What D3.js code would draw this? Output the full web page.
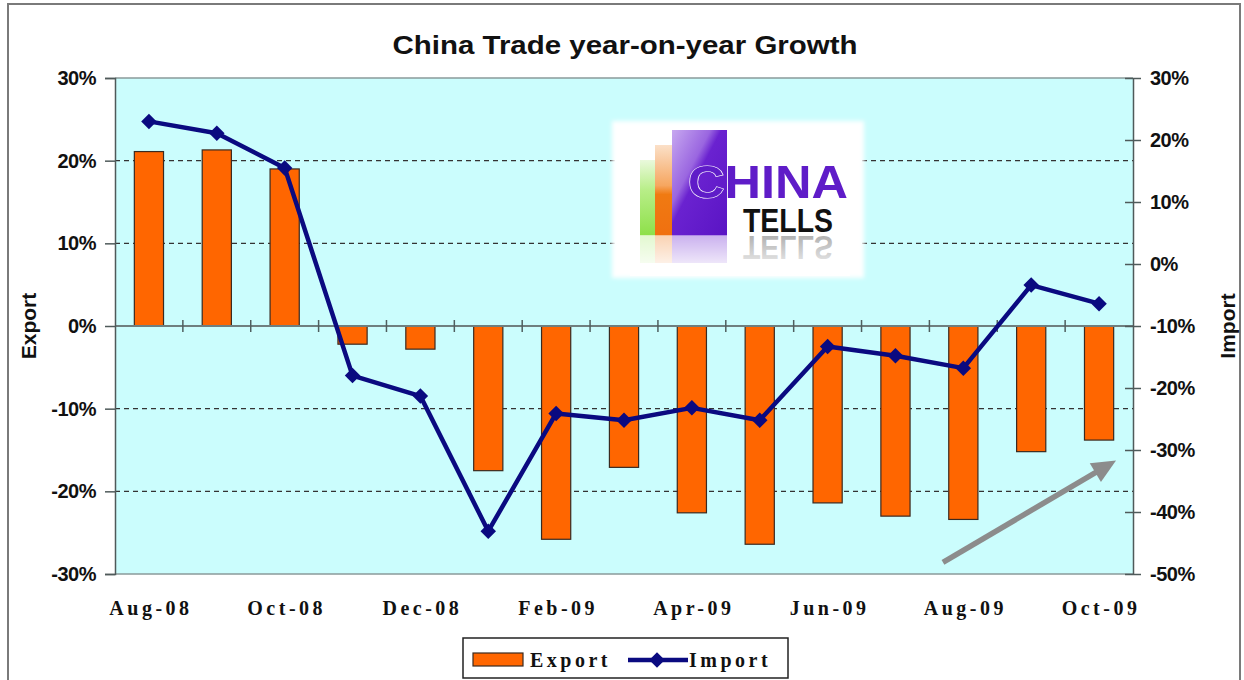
<!DOCTYPE html>
<html>
<head>
<meta charset="utf-8">
<script src="https://cdn.jsdelivr.net/npm/d3@7"></script>
<style>
  html, body { margin: 0; padding: 0; background: #fff; }
  svg { display: block; }
</style>
</head>
<body>
<svg id="chart" width="1244" height="680"></svg>
<script>
// Monthly year-on-year growth of China's foreign trade
const months = ["Aug-08","Sep-08","Oct-08","Nov-08","Dec-08","Jan-09","Feb-09","Mar-09",
                "Apr-09","May-09","Jun-09","Jul-09","Aug-09","Sep-09","Oct-09"];
const exportGrowth = [0.211, 0.213, 0.190, -0.022, -0.028, -0.175, -0.258, -0.171,
                      -0.226, -0.264, -0.214, -0.230, -0.234, -0.152, -0.138];
const importGrowth = [0.230, 0.211, 0.155, -0.180, -0.213, -0.431, -0.241, -0.252,
                      -0.232, -0.252, -0.133, -0.148, -0.168, -0.034, -0.064];
const leftTicks = [0.3, 0.2, 0.1, 0, -0.1, -0.2, -0.3];
const rightTicks = [0.3, 0.2, 0.1, 0, -0.1, -0.2, -0.3, -0.4, -0.5];
const gridValues = [0.2, 0.1, -0.1, -0.2];
const xLabels = ["Aug-08","Oct-08","Dec-08","Feb-09","Apr-09","Jun-09","Aug-09","Oct-09"];
// trend arrow, in (month index, export growth) space
const trendArrow = [{i: 11.70, v: -0.286}, {i: 14.25, v: -0.1626}];

const svg = d3.select("#chart");
const plot = {left: 115, right: 1133, top: 78, bottom: 574};

const x = d3.scaleBand().domain(months).range([plot.left, plot.right]).padding(0);
const xi = d3.scaleLinear().domain([0, months.length - 1])
  .range([plot.left + x.bandwidth() / 2, plot.right - x.bandwidth() / 2]);
const yL = d3.scaleLinear().domain([-0.3, 0.3]).range([plot.bottom, plot.top]);
const yR = d3.scaleLinear().domain([-0.5, 0.3]).range([plot.bottom, plot.top]);
const pctBase = d3.format(".0%");
const pct = d => pctBase(d).replace("\u2212", "-");

// outer chart frame
svg.append("rect").attr("x", 8).attr("y", 4).attr("width", 1232).attr("height", 690)
  .attr("fill", "#fff").attr("stroke", "#7a7a7a").attr("stroke-width", 2);

// title
svg.append("text").attr("x", 625).attr("y", 54).attr("text-anchor", "middle")
  .attr("font-family", "Liberation Sans, Arial, sans-serif").attr("font-weight", "bold")
  .attr("font-size", 26).attr("fill", "#111")
  .attr("textLength", 465).attr("lengthAdjust", "spacingAndGlyphs")
  .text("China Trade year-on-year Growth");

// plot background
svg.append("rect").attr("x", plot.left).attr("y", plot.top)
  .attr("width", plot.right - plot.left).attr("height", plot.bottom - plot.top)
  .attr("fill", "#cbfdfd");
svg.append("line").attr("x1", plot.left).attr("x2", plot.right)
  .attr("y1", plot.top).attr("y2", plot.top).attr("stroke", "#8a9a9a").attr("stroke-width", 1.5);
svg.append("line").attr("x1", plot.left).attr("x2", plot.right)
  .attr("y1", plot.bottom).attr("y2", plot.bottom).attr("stroke", "#8a9a9a").attr("stroke-width", 1.5);

// dashed gridlines
svg.append("g").selectAll("line").data(gridValues).join("line")
  .attr("x1", plot.left).attr("x2", plot.right)
  .attr("y1", d => yL(d)).attr("y2", d => yL(d))
  .attr("stroke", "#333").attr("stroke-width", 1.3).attr("stroke-dasharray", "5,4");

// logo panel
const logo = svg.append("g");
const defs = svg.append("defs");
const gPurple = defs.append("linearGradient").attr("id", "gPurple").attr("x1", 0).attr("y1", 0).attr("x2", 1).attr("y2", 1);
gPurple.append("stop").attr("offset", "0%").attr("stop-color", "#c7a8f0");
gPurple.append("stop").attr("offset", "35%").attr("stop-color", "#9a66e0");
gPurple.append("stop").attr("offset", "45%").attr("stop-color", "#6a22d0");
gPurple.append("stop").attr("offset", "100%").attr("stop-color", "#5a14c4");
const gOrange = defs.append("linearGradient").attr("id", "gOrange").attr("x1", 0).attr("y1", 0).attr("x2", 0).attr("y2", 1);
gOrange.append("stop").attr("offset", "0%").attr("stop-color", "#fbe0c8");
gOrange.append("stop").attr("offset", "45%").attr("stop-color", "#f6a660");
gOrange.append("stop").attr("offset", "55%").attr("stop-color", "#f07a12");
gOrange.append("stop").attr("offset", "100%").attr("stop-color", "#f07010");
const gGreen = defs.append("linearGradient").attr("id", "gGreen").attr("x1", 0).attr("y1", 0).attr("x2", 0).attr("y2", 1);
gGreen.append("stop").attr("offset", "0%").attr("stop-color", "#eaf9dc");
gGreen.append("stop").attr("offset", "40%").attr("stop-color", "#b8ee88");
gGreen.append("stop").attr("offset", "100%").attr("stop-color", "#8ee04a");
const gFade = defs.append("linearGradient").attr("id", "gFade").attr("x1", 0).attr("y1", 0).attr("x2", 0).attr("y2", 1);
gFade.append("stop").attr("offset", "0%").attr("stop-color", "#fff").attr("stop-opacity", 0.35);
gFade.append("stop").attr("offset", "100%").attr("stop-color", "#fff").attr("stop-opacity", 1);
const blur = defs.append("filter").attr("id", "soft").attr("x", "-5%").attr("y", "-5%").attr("width", "110%").attr("height", "110%");
blur.append("feGaussianBlur").attr("stdDeviation", 2);

logo.append("rect").attr("x", 612).attr("y", 121).attr("width", 252).attr("height", 157)
  .attr("fill", "#fff").attr("filter", "url(#soft)");
logo.append("rect").attr("x", 640).attr("y", 160).attr("width", 15).attr("height", 75).attr("fill", "url(#gGreen)");
logo.append("rect").attr("x", 655).attr("y", 145).attr("width", 17).attr("height", 90).attr("fill", "url(#gOrange)");
logo.append("rect").attr("x", 672).attr("y", 130).attr("width", 55).attr("height", 105).attr("fill", "url(#gPurple)");
// mirrored bars fading downwards
logo.append("rect").attr("x", 640).attr("y", 235).attr("width", 15).attr("height", 28).attr("fill", "#b8ee88").attr("opacity", 0.6);
logo.append("rect").attr("x", 655).attr("y", 235).attr("width", 17).attr("height", 28).attr("fill", "#f29040").attr("opacity", 0.6);
logo.append("rect").attr("x", 672).attr("y", 235).attr("width", 55).attr("height", 28).attr("fill", "#7a3ad6").attr("opacity", 0.6);
logo.append("text").attr("x", 688).attr("y", 198)
  .attr("font-family", "Liberation Sans, Arial, sans-serif").attr("font-weight", "bold")
  .attr("font-size", 46).attr("fill", "#5f1cc8")
  .attr("stroke", "#fff").attr("stroke-width", 1.2).attr("paint-order", "stroke")
  .attr("textLength", 160).attr("lengthAdjust", "spacingAndGlyphs").text("CHINA");
logo.append("text").attr("x", 743).attr("y", 232)
  .attr("font-family", "Liberation Sans, Arial, sans-serif").attr("font-weight", "bold")
  .attr("font-size", 33).attr("fill", "#111")
  .attr("textLength", 90).attr("lengthAdjust", "spacingAndGlyphs").text("TELLS");
logo.append("text").attr("transform", "translate(0,468) scale(1,-1)").attr("x", 743).attr("y", 232)
  .attr("font-family", "Liberation Sans, Arial, sans-serif").attr("font-weight", "bold")
  .attr("font-size", 33).attr("fill", "#888")
  .attr("textLength", 90).attr("lengthAdjust", "spacingAndGlyphs").text("TELLS");
logo.append("rect").attr("x", 630).attr("y", 236).attr("width", 220).attr("height", 40).attr("fill", "url(#gFade)");

// export bars
const barW = x.bandwidth() * 0.43;
svg.append("g").selectAll("rect").data(months).join("rect")
  .attr("x", (d) => x(d) + (x.bandwidth() - barW) / 2)
  .attr("width", barW)
  .attr("y", (d, i) => Math.min(yL(exportGrowth[i]), yL(0)))
  .attr("height", (d, i) => Math.abs(yL(exportGrowth[i]) - yL(0)))
  .attr("fill", "#ff6600").attr("stroke", "#3a2a20").attr("stroke-width", 1.2);

// zero line with category ticks
svg.append("line").attr("x1", plot.left).attr("x2", plot.right)
  .attr("y1", yL(0)).attr("y2", yL(0)).attr("stroke", "#6f7f7f").attr("stroke-width", 2);
const boundaries = d3.range(1, months.length).map(i => plot.left + i * x.bandwidth());
svg.append("g").selectAll("line").data(boundaries).join("line")
  .attr("x1", d => d).attr("x2", d => d)
  .attr("y1", yL(0) - 6).attr("y2", yL(0) + 6)
  .attr("stroke", "#4f5f5f").attr("stroke-width", 1.5);

// left axis
const leftAxis = svg.append("g").attr("transform", `translate(${plot.left},0)`)
  .call(d3.axisLeft(yL).tickValues(leftTicks).tickSize(10).tickPadding(9).tickFormat(pct));
leftAxis.select(".domain").attr("stroke", "#4f5a5a").attr("stroke-width", 1.5);
leftAxis.selectAll(".tick line").attr("stroke", "#4f5a5a").attr("stroke-width", 1.5);
leftAxis.selectAll("text").attr("font-family", "Liberation Sans, Arial, sans-serif")
  .attr("font-weight", "bold").attr("font-size", 20).attr("fill", "#111")
  .attr("letter-spacing", -0.5);

// right axis with crossing ticks
const rightAxis = svg.append("g").attr("transform", `translate(${plot.right},0)`)
  .call(d3.axisRight(yR).tickValues(rightTicks).tickSizeInner(8).tickSizeOuter(0).tickPadding(9).tickFormat(pct));
rightAxis.select(".domain").attr("stroke", "#4f5a5a").attr("stroke-width", 1.5);
rightAxis.selectAll(".tick line").attr("x1", -8).attr("stroke", "#4f5a5a").attr("stroke-width", 1.5);
rightAxis.selectAll("text").attr("font-family", "Liberation Sans, Arial, sans-serif")
  .attr("font-weight", "bold").attr("font-size", 20).attr("fill", "#111")
  .attr("letter-spacing", -0.5);

// month labels
svg.append("g").selectAll("text").data(xLabels).join("text")
  .attr("x", d => x(d) + x.bandwidth() / 2 + 2)
  .attr("y", 615).attr("text-anchor", "middle")
  .attr("font-family", "Liberation Serif, serif").attr("font-weight", "bold")
  .attr("font-size", 20).attr("letter-spacing", 3.5).attr("fill", "#111")
  .text(d => d);

// axis titles
svg.append("text").attr("transform", "translate(36,326) rotate(-90)").attr("text-anchor", "middle")
  .attr("font-family", "Liberation Sans, Arial, sans-serif").attr("font-weight", "bold")
  .attr("font-size", 21).attr("fill", "#111").text("Export");
svg.append("text").attr("transform", "translate(1235,326) rotate(-90)").attr("text-anchor", "middle")
  .attr("font-family", "Liberation Sans, Arial, sans-serif").attr("font-weight", "bold")
  .attr("font-size", 21).attr("fill", "#111").text("Import");

// import line with diamond markers
const line = d3.line().x((d, i) => x(months[i]) + x.bandwidth() / 2).y(d => yR(d));
svg.append("path").datum(importGrowth).attr("d", line)
  .attr("fill", "none").attr("stroke", "#0a0a80").attr("stroke-width", 4.5)
  .attr("stroke-linejoin", "round");
const diamond = d3.symbol(d3.symbolSquare, 120);
svg.append("g").selectAll("path").data(importGrowth).join("path")
  .attr("d", diamond)
  .attr("transform", (d, i) => `translate(${x(months[i]) + x.bandwidth() / 2},${yR(d)}) rotate(45)`)
  .attr("fill", "#0a0a80");

// trend arrow
const a0 = [xi(trendArrow[0].i), yL(trendArrow[0].v)];
const a1 = [xi(trendArrow[1].i), yL(trendArrow[1].v)];
const len = Math.hypot(a1[0] - a0[0], a1[1] - a0[1]);
const ux = (a1[0] - a0[0]) / len, uy = (a1[1] - a0[1]) / len;
const headL = 24, headW = 11;
const base = [a1[0] - headL * ux, a1[1] - headL * uy];
svg.append("line").attr("x1", a0[0]).attr("y1", a0[1]).attr("x2", base[0] + 2 * ux).attr("y2", base[1] + 2 * uy)
  .attr("stroke", "#8c8c8c").attr("stroke-width", 5.5);
svg.append("path")
  .attr("d", `M${a1[0]},${a1[1]} L${base[0] - headW * uy},${base[1] + headW * ux} L${base[0] + headW * uy},${base[1] - headW * ux} Z`)
  .attr("fill", "#8c8c8c");

// legend
const legend = svg.append("g");
legend.append("rect").attr("x", 463).attr("y", 638).attr("width", 325).attr("height", 40)
  .attr("fill", "#fff").attr("stroke", "#222").attr("stroke-width", 1.5);
legend.append("rect").attr("x", 473).attr("y", 653).attr("width", 50).attr("height", 13)
  .attr("fill", "#ff6600").attr("stroke", "#3a2a20").attr("stroke-width", 1.2);
legend.append("text").attr("x", 530).attr("y", 667)
  .attr("font-family", "Liberation Serif, serif").attr("font-weight", "bold")
  .attr("font-size", 20).attr("letter-spacing", 3.5).attr("fill", "#111").text("Export");
legend.append("line").attr("x1", 628).attr("x2", 688).attr("y1", 660).attr("y2", 660)
  .attr("stroke", "#0a0a80").attr("stroke-width", 4.5);
legend.append("path").attr("d", diamond).attr("transform", "translate(657,660) rotate(45)").attr("fill", "#0a0a80");
legend.append("text").attr("x", 689).attr("y", 667)
  .attr("font-family", "Liberation Serif, serif").attr("font-weight", "bold")
  .attr("font-size", 20).attr("letter-spacing", 3.5).attr("fill", "#111").text("Import");
</script>
</body>
</html>
